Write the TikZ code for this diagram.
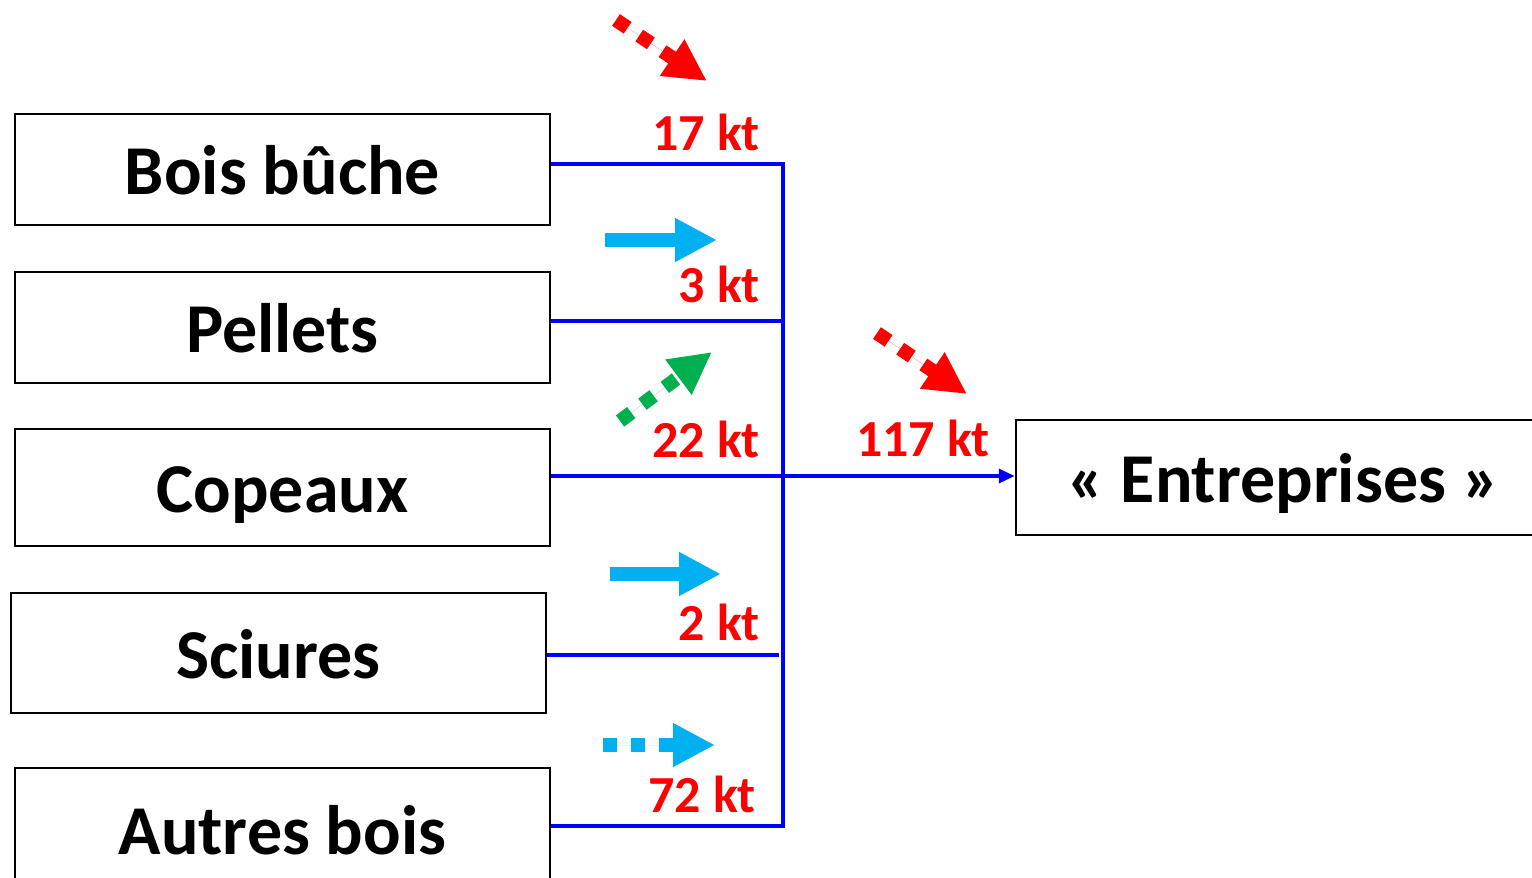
\documentclass[tikz,border=0pt]{standalone}
\usepackage{fontspec}
\setmainfont{Carlito}
\usetikzlibrary{arrows.meta}
\definecolor{fblue}{HTML}{0000FF}
\definecolor{fred}{HTML}{FF0000}
\definecolor{fcyan}{HTML}{00B0F0}
\definecolor{fgreen}{HTML}{00B050}
\tikzset{
  box/.style={draw=black, line width=2.5pt, minimum width=535pt, inner sep=0pt,
    text height=50pt, text depth=0pt,
    font=\fontsize{70}{80}\selectfont\bfseries},
  flow/.style={draw=fblue, line width=4.5pt},
  qty/.style={text=fred, anchor=base east, inner sep=0pt, font=\fontsize{52}{60}\selectfont\bfseries},
  bigarrow/.style={line width=14pt, -{Triangle[width=41pt,length=42pt]}},
  dotted arrow/.style={bigarrow, dash pattern=on 14pt off 14pt},
}
\begin{document}
\begin{tikzpicture}[x=1pt,y=-1pt]
\useasboundingbox (0,0) rectangle (1532,878);
\fill[white] (0,0) rectangle (1532,878);
% boxes
\node[box, minimum height=111pt] (bois) at (282.5,169.5) {Bois bûche};
\node[box, minimum height=111pt] (pell) at (282.5,327.5) {Pellets};
\node[box, minimum height=117pt] (cope) at (282.5,487.5) {Copeaux};
\node[box, minimum height=120pt] (scie) at (278.5,653) {Sciures};
\node[box, minimum height=122pt] (autr) at (282.5,829) {Autres bois};
\node[box, minimum height=115pt] (entr) at (1283.5,477.5) {« Entreprises »};
% junction coordinates
\coordinate (jtop) at (783,164);
\coordinate (jp) at (783,321);
\coordinate (jc) at (783,476);
\coordinate (js) at (779,655);
\coordinate (jbot) at (783,826);
% connectors
\draw[flow] (bois.east |- jtop) -- (jtop);
\draw[flow] (pell.east |- jp) -- (jp);
\draw[flow] (cope.east |- jc) -- (jc);
\draw[flow] (scie.east |- js) -- (js);
\draw[flow] (autr.east |- jbot) -- (jbot);
\draw[flow, line cap=rect] (jtop) -- (jbot);
\draw[draw=fblue, line width=3.5pt, -{Triangle[width=14pt,length=16pt]}] (jc) -- (entr.west |- jc);
% quantities
\node[qty] (q1) at (760,150) {17 kt};
\node[qty] (q2) at (760,302) {3 kt};
\node[qty] (q3) at (760,457) {22 kt};
\node[qty] (q4) at (760,640) {2 kt};
\node[qty] (q5) at (756,812) {72 kt};
\node[qty] (q6) at (990,456) {117 kt};
% trend arrows
\coordinate (r1s) at (616,20); \coordinate (r1e) at (707,81);
\draw[dotted arrow, draw=fred, fill=fred] (r1s) -- (r1e);
\coordinate (c1s) at (605,240); \coordinate (c1e) at (717,240);
\draw[bigarrow, draw=fcyan, fill=fcyan] (c1s) -- (c1e);
\coordinate (g1s) at (620,421); \coordinate (g1e) at (712,352);
\draw[dotted arrow, draw=fgreen, fill=fgreen] (g1s) -- (g1e);
\coordinate (c2s) at (610,574); \coordinate (c2e) at (721,574);
\draw[bigarrow, draw=fcyan, fill=fcyan] (c2s) -- (c2e);
\coordinate (c3s) at (603,745); \coordinate (c3e) at (715,745);
\draw[dotted arrow, draw=fcyan, fill=fcyan] (c3s) -- (c3e);
\coordinate (r2s) at (877,333); \coordinate (r2e) at (967,394);
\draw[dotted arrow, draw=fred, fill=fred] (r2s) -- (r2e);
\end{tikzpicture}
\end{document}
